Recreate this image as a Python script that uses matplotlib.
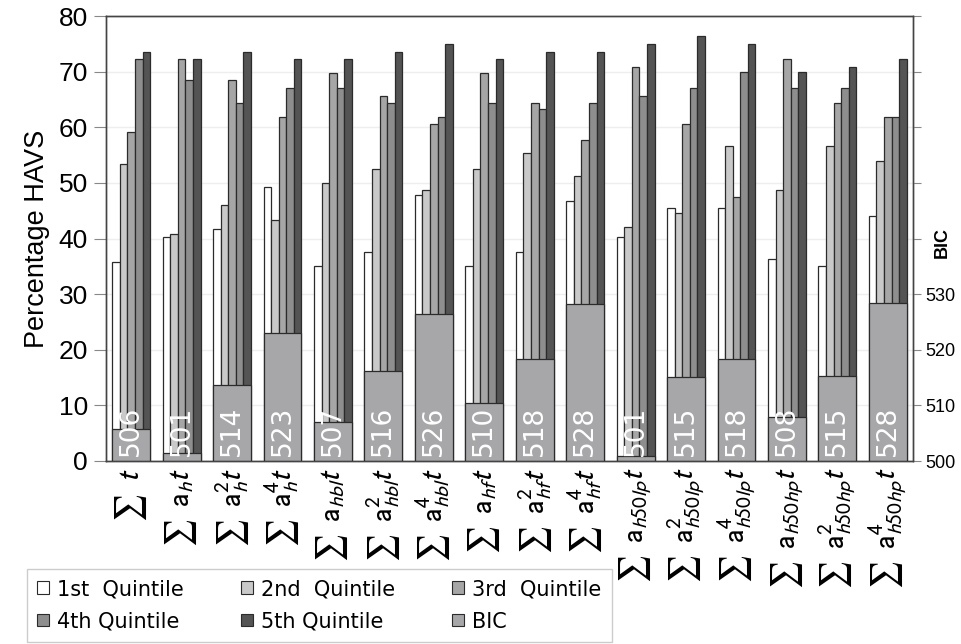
import matplotlib.pyplot as plt
from matplotlib.patches import Patch
import numpy as np

# x categories (rotated math labels)
names = [r'$\sum\;\; \mathit{t}$',
         r'$\sum\;\; \mathrm{a}_{h}\mathit{t}$',
         r'$\sum\;\; \mathrm{a}_{h}^{2}\mathit{t}$',
         r'$\sum\;\; \mathrm{a}_{h}^{4}\mathit{t}$',
         r'$\sum\;\; \mathrm{a}_{hbl}\mathit{t}$',
         r'$\sum\;\; \mathrm{a}_{hbl}^{2}\mathit{t}$',
         r'$\sum\;\; \mathrm{a}_{hbl}^{4}\mathit{t}$',
         r'$\sum\;\; \mathrm{a}_{hf}\mathit{t}$',
         r'$\sum\;\; \mathrm{a}_{hf}^{2}\mathit{t}$',
         r'$\sum\;\; \mathrm{a}_{hf}^{4}\mathit{t}$',
         r'$\sum\;\; \mathrm{a}_{h50lp}\mathit{t}$',
         r'$\sum\;\; \mathrm{a}_{h50lp}^{2}\mathit{t}$',
         r'$\sum\;\; \mathrm{a}_{h50lp}^{4}\mathit{t}$',
         r'$\sum\;\; \mathrm{a}_{h50hp}\mathit{t}$',
         r'$\sum\;\; \mathrm{a}_{h50hp}^{2}\mathit{t}$',
         r'$\sum\;\; \mathrm{a}_{h50hp}^{4}\mathit{t}$']

q1 = [35.8, 40.2, 41.7, 49.3, 35.0, 37.5, 47.9, 35.0, 37.5, 46.8, 40.3, 45.5, 45.5, 36.4, 35.1, 44.0]
q2 = [53.4, 40.8, 46.0, 43.3, 49.9, 52.5, 48.7, 52.5, 55.3, 51.2, 42.1, 44.6, 56.7, 48.7, 56.7, 53.9]
q3 = [59.1, 72.2, 68.5, 61.9, 69.8, 65.7, 60.6, 69.8, 64.3, 57.7, 70.9, 60.5, 47.4, 72.2, 64.3, 61.8]
q4 = [72.2, 68.5, 64.3, 67.1, 67.0, 64.3, 61.9, 64.3, 63.3, 64.3, 65.7, 67.1, 69.9, 67.1, 67.1, 61.8]
q5 = [73.6, 72.2, 73.6, 72.2, 72.2, 73.6, 75.0, 72.2, 73.6, 73.6, 75.0, 76.4, 75.0, 69.9, 70.9, 72.2]
bic = [505.7, 501.4, 513.6, 523.0, 507.1, 516.2, 526.5, 510.4, 518.4, 528.2,
       500.9, 515.1, 518.4, 508.0, 515.3, 528.4]

legend_names = ['1st  Quintile', '2nd  Quintile', '3rd  Quintile',
                '4th Quintile', '5th Quintile', 'BIC']
colors = ['#ffffff', '#c9c9c9', '#a6a6a6', '#8e8e8e', '#545454']
bic_color = '#a7a7a9'
edge = '#2b2b2b'

plt.rcParams['font.family'] = ['Liberation Sans', 'DejaVu Sans']
plt.rcParams['mathtext.fontset'] = 'stixsans'

fig = plt.figure(figsize=(9.62, 6.44), dpi=100)
ax = fig.add_axes([106 / 962, 1 - 461 / 644, 807 / 962, 445 / 644])
ax2 = ax.twinx()

x = np.arange(len(names))
w = 0.15
for i, q in enumerate([q1, q2, q3, q4, q5]):
    ax.bar(x + (i - 2) * w, q, width=w, color=colors[i], edgecolor=edge, linewidth=0.9)

# BIC bars sit on top of the quintile bars, on the right-hand axis
ax2.bar(x, np.array(bic) - 500, bottom=500, width=0.75, color=bic_color,
        edgecolor=edge, linewidth=0.9)
for xi, b in zip(x, bic):
    ax2.text(xi, 500.9, '%d' % round(b), rotation=90, ha='center', va='bottom',
             color='white', fontsize=19, family='DejaVu Sans')

ax.set_xlim(-0.5, len(names) - 0.5)
ax.set_ylim(0, 80)
ax2.set_ylim(500, 580)
ax.set_yticks(range(0, 81, 10))
ax.tick_params(axis='y', labelsize=19, direction='out', length=9, color='#888888', pad=4)
ax.yaxis.grid(True, color='#eeeeee', linewidth=1)
ax.set_axisbelow(True)
ax.set_ylabel('Percentage HAVS', fontsize=19.5, labelpad=6)

ax2.set_yticks(range(500, 581, 10))
ax2.set_yticklabels([str(v) if v <= 530 else '' for v in range(500, 581, 10)])
ax2.tick_params(axis='y', labelsize=13, direction='out', length=6, color='#888888', pad=3)
ax2.text(1.036, 0.49, 'BIC', rotation=90, fontsize=13, fontweight='bold',
         ha='center', va='center', transform=ax2.transAxes)

ax.set_xticks(x)
ax.set_xticklabels(names, rotation=90, fontsize=22, va='top', ha='center')
ax.tick_params(axis='x', length=0, pad=5)

for a in (ax, ax2):
    for s in a.spines.values():
        s.set_color('#444444')
        s.set_linewidth(1)

handles = [Patch(facecolor=c, edgecolor=edge, linewidth=0.8) for c in colors] + \
          [Patch(facecolor=bic_color, edgecolor=edge, linewidth=0.8)]
order = [0, 3, 1, 4, 2, 5]
leg = fig.legend([handles[k] for k in order], [legend_names[k] for k in order],
                 ncol=3, loc='lower left', bbox_to_anchor=(27 / 962, 2 / 644),
                 borderaxespad=0, fancybox=False, edgecolor='#cccccc', framealpha=1,
                 prop={'family': 'DejaVu Sans', 'size': 15},
                 handlelength=0.55, handleheight=0.55, handletextpad=0.4,
                 columnspacing=2.75, borderpad=0.5, labelspacing=0.6)
leg.get_frame().set_linewidth(1)

fig.savefig('out.png', dpi=100)
